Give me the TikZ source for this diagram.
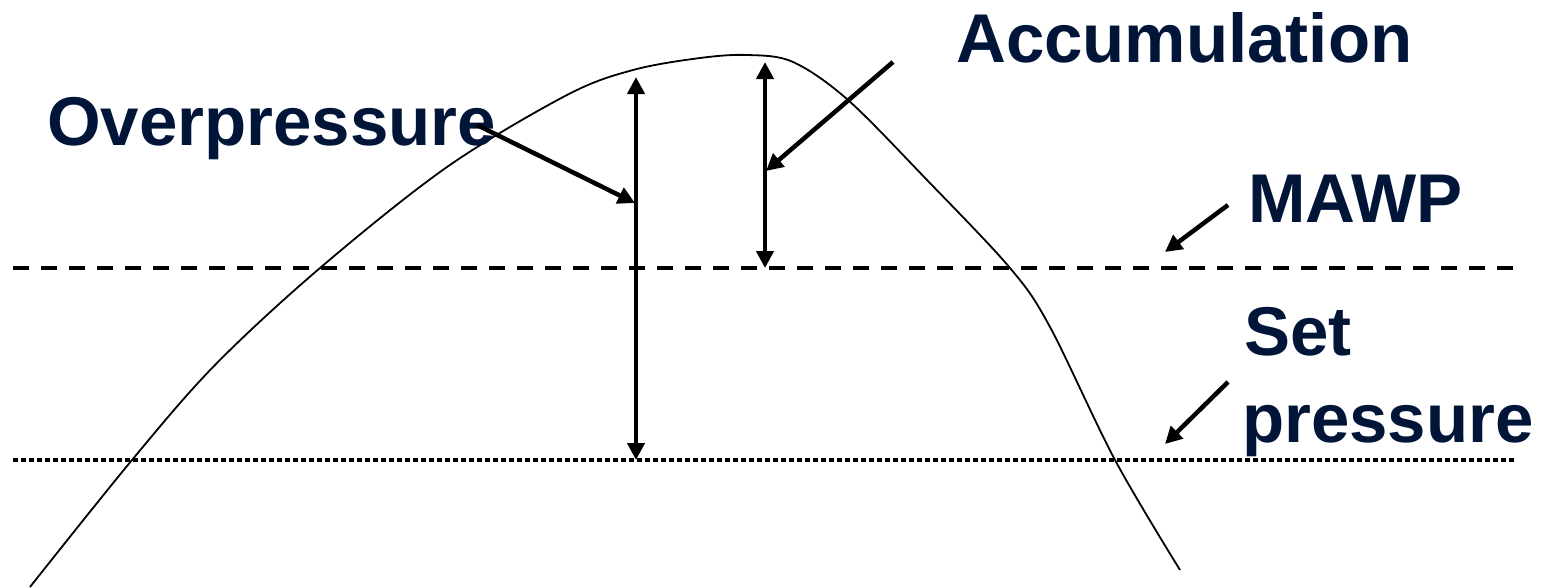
\documentclass[tikz,border=0pt]{standalone}
\usepackage{fontspec}
\setmainfont{Liberation Sans}
\usetikzlibrary{arrows.meta}
\definecolor{textnavy}{RGB}{0,21,56}
\tikzset{
  lbl/.style={text=textnavy, font=\fontsize{69}{80}\selectfont\bfseries, inner sep=0pt, anchor=base west},
  bigarrow/.style={line width=4.5pt, {Triangle[length=17pt,width=17pt]}-{Triangle[length=17pt,width=17pt]}},
  pointer/.style={line width=4.5pt, -{Triangle[length=17pt,width=17pt]}},
  curveline/.style={line width=1.8pt, line join=round},
  mawpline/.style={line width=3.5pt, dash pattern=on 16pt off 12pt},
  setline/.style={line width=3.5pt, dash pattern=on 4.5pt off 3.5pt}
}
\begin{document}
\begin{tikzpicture}[x=1pt,y=-1pt]
\useasboundingbox (0,0) rectangle (1552,587);
% reference lines
\coordinate (mawpL) at (13,268);
\coordinate (mawpR) at (1515,268);
\coordinate (setL) at (13,460);
\coordinate (setR) at (1515,460);
\draw[mawpline] (mawpL) -- (mawpR);
\draw[setline] (setL) -- (setR);
% pressure curve
\draw[curveline] plot[smooth, tension=0.55] coordinates {(30,587) (132,460) (215,365) (320,268) (447,167) (567,95) (633,70) (700,58) (748,55) (793,62) (848,100) (927,180) (1010,268) (1050,327) (1115,460) (1180,570)};
% labels
\node[lbl] (over) at (47,145) {Overpressure};
\node[lbl] (accu) at (956,62) {Accumulation};
\node[lbl] (mawp) at (1248,222) {MAWP};
\node[lbl] (set1) at (1244,355) {Set};
\node[lbl] (set2) at (1242,442) {pressure};
% double arrows
\coordinate (opTop) at (636,77);
\coordinate (opBot) at (636,460);
\coordinate (acTop) at (765,62);
\coordinate (acBot) at (765,268);
\draw[bigarrow] (opTop) -- (opBot);
\draw[bigarrow] (acTop) -- (acBot);
% pointers
\coordinate (opS) at (477,125);
\coordinate (opE) at (635,203);
\coordinate (acS) at (893,62);
\coordinate (acE) at (766,171);
\coordinate (mwS) at (1228,205);
\coordinate (mwE) at (1165,252);
\coordinate (spS) at (1228,382);
\coordinate (spE) at (1165,444);
\draw[pointer] (opS) -- (opE);
\draw[pointer] (acS) -- (acE);
\draw[pointer] (mwS) -- (mwE);
\draw[pointer] (spS) -- (spE);
\end{tikzpicture}
\end{document}
